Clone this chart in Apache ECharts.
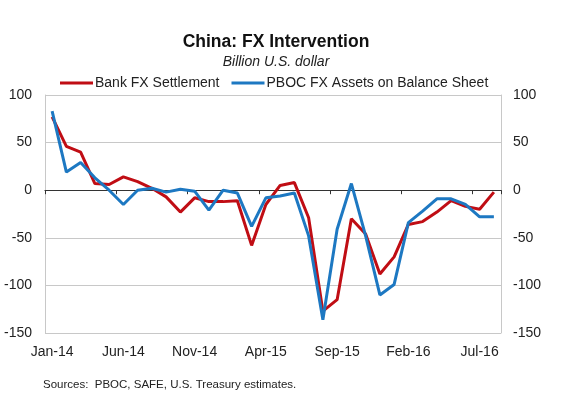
<!DOCTYPE html>
<html><head><meta charset="utf-8">
<script src="https://cdn.jsdelivr.net/npm/echarts@6/dist/echarts.min.js"></script>
<style>html,body{margin:0;padding:0;background:#fff}#c{width:562px;height:398px}</style>
</head><body><div id="c"></div>
<script>
const months = ["Jan-14","Feb-14","Mar-14","Apr-14","May-14","Jun-14","Jul-14","Aug-14","Sep-14","Oct-14","Nov-14","Dec-14",
"Jan-15","Feb-15","Mar-15","Apr-15","May-15","Jun-15","Jul-15","Aug-15","Sep-15","Oct-15","Nov-15","Dec-15",
"Jan-16","Feb-16","Mar-16","Apr-16","May-16","Jun-16","Jul-16","Aug-16"];
const bankFX = [77,46,40,7,6,14,9,2,-7,-23,-8,-12,-12,-11,-58,-15,5,8,-29,-127,-115,-30,-46,-88,-70,-36,-33,-23,-11,-17,-20,-2];
const pbocFX = [83,19,29,13,0,-15,0,2,-2,1,-1,-21,0,-3,-38,-8,-6,-3,-48,-136,-41,7,-48,-110,-99,-34,-22,-9,-9,-15,-28,-28];
const yTicks = {min:-150, max:100, interval:50};

const F = "'Liberation Sans', Arial, sans-serif";
const chart = echarts.init(document.getElementById('c'), null, {renderer:'canvas'});
chart.setOption({
  animation:false,
  backgroundColor:'#fff',
  title:[
    {text:'China: FX Intervention', left:271, top:28, textAlign:'center',
     textStyle:{fontFamily:F, fontSize:17.5, fontWeight:'bold', color:'#111'}},
    {text:'Billion U.S. dollar', left:271, top:50, textAlign:'center',
     textStyle:{fontFamily:F, fontSize:14, fontStyle:'italic', fontWeight:'normal', color:'#222'}},
    {text:'Sources:  PBOC, SAFE, U.S. Treasury estimates.', left:38, top:374,
     textStyle:{fontFamily:F, fontSize:11.5, fontWeight:'normal', color:'#222'}}
  ],
  legend:{
    top:71, left:55, itemWidth:33, itemHeight:3, itemGap:12, icon:'rect',
    textStyle:{fontFamily:F, fontSize:14, color:'#222', padding:[0,0,0,-3]},
    data:['Bank FX Settlement','PBOC FX Assets on Balance Sheet']
  },
  grid:{left:45, right:61, top:95, bottom:65, containLabel:false},
  xAxis:[
    {type:'category', data:months, position:'bottom', boundaryGap:true,
     axisLine:{show:false}, axisTick:{show:false},
     axisLabel:{interval:4, margin:12, fontFamily:F, fontSize:14, color:'#222'}},
    {type:'category', data:months, position:'top', boundaryGap:true,
     axisLine:{show:true, onZero:true, lineStyle:{color:'#333', width:1.2}},
     axisTick:{show:true, interval:4, inside:true, length:4, lineStyle:{color:'#333'}},
     axisLabel:{show:false}}
  ],
  yAxis:[
    {type:'value', min:yTicks.min, max:yTicks.max, interval:yTicks.interval, position:'left',
     axisLine:{show:true, lineStyle:{color:'#c8c8c8'}}, axisTick:{show:false},
     splitLine:{show:true, lineStyle:{color:'#c8c8c8'}},
     axisLabel:{margin:13, fontFamily:F, fontSize:14, color:'#222'}},
    {type:'value', min:yTicks.min, max:yTicks.max, interval:yTicks.interval, position:'right',
     axisLine:{show:true, lineStyle:{color:'#c8c8c8'}}, axisTick:{show:false},
     splitLine:{show:false},
     axisLabel:{margin:12, fontFamily:F, fontSize:14, color:'#222'}}
  ],
  series:[
    {name:'Bank FX Settlement', type:'line', data:bankFX, xAxisIndex:0, yAxisIndex:0,
     symbol:'none', lineStyle:{color:'#c00d14', width:3}, itemStyle:{color:'#c00d14'}, z:2},
    {name:'PBOC FX Assets on Balance Sheet', type:'line', data:pbocFX, xAxisIndex:0, yAxisIndex:0,
     symbol:'none', lineStyle:{color:'#1d78c2', width:3}, itemStyle:{color:'#1d78c2'}, z:3}
  ]
});
</script></body></html>
